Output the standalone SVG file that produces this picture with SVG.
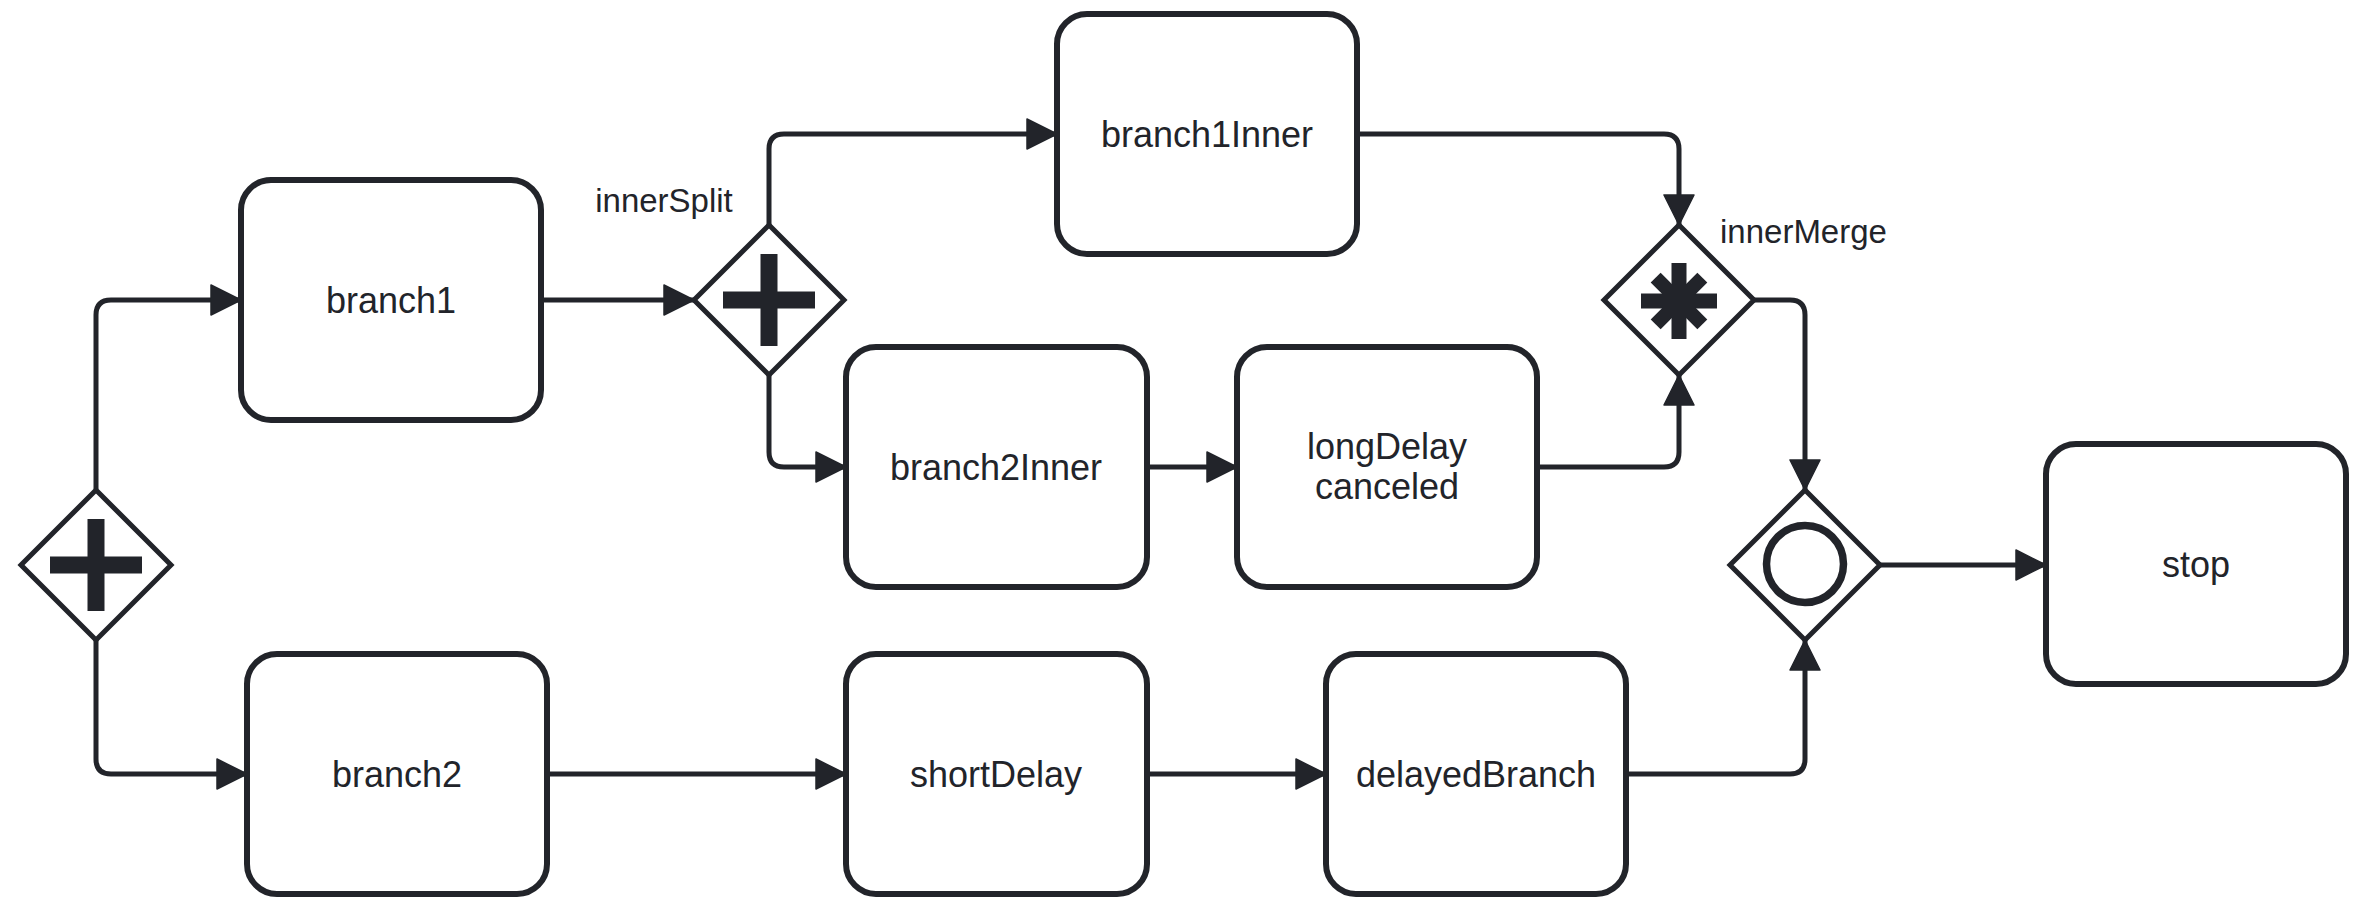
<svg xmlns="http://www.w3.org/2000/svg" width="2361" height="909" viewBox="0 0 2361 909">
<defs>
<style>
.task{fill:#fff;stroke:#22242a;stroke-width:6}
.gw{fill:#fff;stroke:#22242a;stroke-width:5;stroke-linejoin:miter}
.mk{fill:#22242a}
.flow{fill:none;stroke:#22242a;stroke-width:5;marker-end:url(#arrow)}
.lbl{font-family:"Liberation Sans",Arial,sans-serif;font-size:36px;fill:#22242a;text-anchor:middle}
.ext{font-family:"Liberation Sans",Arial,sans-serif;font-size:33px;fill:#22242a}
</style>
<marker id="arrow" markerUnits="userSpaceOnUse" markerWidth="32" markerHeight="32" viewBox="0 0 32 32" refX="31" refY="16" orient="auto">
<path d="M1,1 L31,16 L1,31 Z" fill="#22242a" stroke="#22242a" stroke-width="1.5" stroke-linejoin="round"/>
</marker>
</defs>
<rect width="2361" height="909" fill="#fff"/>
<g id="connectors">
<path class="flow" d="M96,489 L96,315 Q96,300 111,300 L241,300"/>
<path class="flow" d="M96,639 L96,759 Q96,774 111,774 L247,774"/>
<path class="flow" d="M541,300 L694,300"/>
<path class="flow" d="M769,225 L769,149 Q769,134 784,134 L1057,134"/>
<path class="flow" d="M769,375 L769,452 Q769,467 784,467 L846,467"/>
<path class="flow" d="M1147,467 L1237,467"/>
<path class="flow" d="M1357,134 L1664,134 Q1679,134 1679,149 L1679,225"/>
<path class="flow" d="M1537,467 L1664,467 Q1679,467 1679,452 L1679,375"/>
<path class="flow" d="M1754,300 L1790,300 Q1805,300 1805,315 L1805,490"/>
<path class="flow" d="M547,774 L846,774"/>
<path class="flow" d="M1147,774 L1326,774"/>
<path class="flow" d="M1626,774 L1790,774 Q1805,774 1805,759 L1805,640"/>
<path class="flow" d="M1880,565 L2046,565"/>
</g>
<g id="start">
<path class="gw" d="M96,490 L171,565 L96,640 L21,565 Z"/>
<rect class="mk" x="87.5" y="519" width="17" height="92"/>
<rect class="mk" x="50" y="556.5" width="92" height="17"/>
</g>
<g id="branch1">
<rect class="task" x="241" y="180" width="300" height="240" rx="30"/>
<text class="lbl" x="391" y="313">branch1</text>
</g>
<g id="branch2">
<rect class="task" x="247" y="654" width="300" height="240" rx="30"/>
<text class="lbl" x="397" y="787">branch2</text>
</g>
<g id="innerSplit">
<path class="gw" d="M769,225 L844,300 L769,375 L694,300 Z"/>
<rect class="mk" x="760.5" y="254" width="17" height="92"/>
<rect class="mk" x="723" y="291.5" width="92" height="17"/>
<text class="ext" x="664" y="212" text-anchor="middle">innerSplit</text>
</g>
<g id="branch1Inner">
<rect class="task" x="1057" y="14" width="300" height="240" rx="30"/>
<text class="lbl" x="1207" y="147">branch1Inner</text>
</g>
<g id="branch2Inner">
<rect class="task" x="846" y="347" width="301" height="240" rx="30"/>
<text class="lbl" x="996" y="480">branch2Inner</text>
</g>
<g id="longDelay">
<rect class="task" x="1237" y="347" width="300" height="240" rx="30"/>
<text class="lbl" x="1387" y="459">longDelay</text>
<text class="lbl" x="1387" y="499">canceled</text>
</g>
<g id="innerMerge">
<path class="gw" d="M1679,225 L1754,300 L1679,375 L1604,300 Z"/>
<g transform="translate(1679,301)">
<rect class="mk" x="-7.5" y="-38" width="15" height="76"/>
<rect class="mk" x="-38" y="-7.5" width="76" height="15"/>
<rect class="mk" x="-7" y="-33" width="14" height="66" transform="rotate(45)"/>
<rect class="mk" x="-7" y="-33" width="14" height="66" transform="rotate(-45)"/>
</g>
<text class="ext" x="1720" y="243">innerMerge</text>
</g>
<g id="join">
<path class="gw" d="M1805,490 L1880,565 L1805,640 L1730,565 Z"/>
<circle cx="1805" cy="564" r="38.5" fill="none" stroke="#22242a" stroke-width="7.5"/>
</g>
<g id="shortDelay">
<rect class="task" x="846" y="654" width="301" height="240" rx="30"/>
<text class="lbl" x="996" y="787">shortDelay</text>
</g>
<g id="delayedBranch">
<rect class="task" x="1326" y="654" width="300" height="240" rx="30"/>
<text class="lbl" x="1476" y="787">delayedBranch</text>
</g>
<g id="stop">
<rect class="task" x="2046" y="444" width="300" height="240" rx="30"/>
<text class="lbl" x="2196" y="577">stop</text>
</g>
</svg>
